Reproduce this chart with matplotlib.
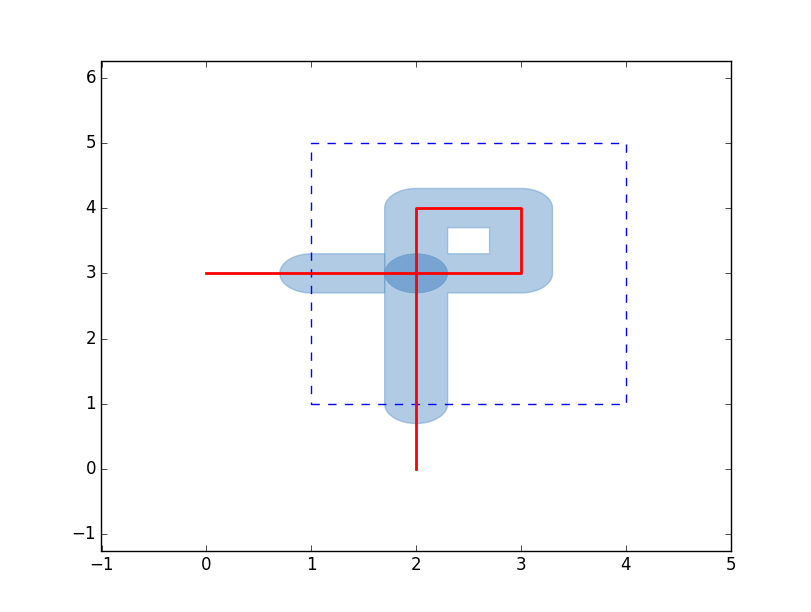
import matplotlib
matplotlib.use('Agg')
import matplotlib.pyplot as plt
from matplotlib.path import Path
from matplotlib.patches import PathPatch
import numpy as np

# line and clipping box
line_x = [0, 3, 3, 2, 2]
line_y = [3, 3, 4, 4, 0]
box = (1, 1, 4, 5)   # minx, miny, maxx, maxy
r = 0.3              # buffer distance

BLUE = '#6699cc'


def arc(cx, cy, a0, a1, n=40):
    t = np.radians(np.linspace(a0, a1, n))
    return list(zip(cx + r * np.cos(t), cy + r * np.sin(t)))


def subpath(pts):
    verts = pts + [pts[0]]
    codes = [Path.MOVETO] + [Path.LINETO] * (len(pts) - 1) + [Path.CLOSEPOLY]
    return verts, codes


plt.style.use('classic')
fig = plt.figure(figsize=(8.12, 6.12), dpi=100, facecolor='white')
ax = fig.add_subplot(111)

# corner points of the line
xr, yb = line_x[1], line_y[1]
yt = line_y[2]
xl = line_x[3]
ybot = box[1]

# ring + vertical stem
outer = (arc(xl, ybot, 180, 360)
         + [(xl + r, yb - r)]
         + arc(xr, yb, 270, 360)
         + arc(xr, yt, 0, 90)
         + arc(xl, yt, 90, 180))
hole = [(xl + r, yb + r), (xl + r, yt - r), (xr - r, yt - r), (xr - r, yb + r)]
v1, c1 = subpath(outer)
v2, c2 = subpath(hole)
ax.add_patch(PathPatch(Path(v1 + v2, c1 + c2), fc=BLUE, ec=BLUE, alpha=0.5, zorder=1))

# left arm
left = [(box[0], yb - r), (xl - r, yb - r), (xl - r, yb + r)] + arc(box[0], yb, 90, 270)
v3, c3 = subpath(left)
ax.add_patch(PathPatch(Path(v3, c3), fc=BLUE, ec=BLUE, alpha=0.5, zorder=1))

# knot where the pieces meet (covered twice more)
v4, c4 = subpath(arc(xl, yb, 0, 360))
for _ in range(2):
    ax.add_patch(PathPatch(Path(v4, c4), fc=BLUE, ec=BLUE, alpha=0.5, lw=0.5, zorder=1))

# clipping box
bx = [box[0], box[2], box[2], box[0], box[0]]
by = [box[1], box[1], box[3], box[3], box[1]]
ax.plot(bx, by, '--', color='blue', linewidth=1, zorder=2)

ax.plot(line_x, line_y, color='red', linewidth=2, zorder=3)

ax.set_xlim(-1, 5)
ax.set_ylim(-1.25, 6.25)
ax.set_xticks(range(-1, 6))
ax.set_yticks(range(-1, 7))

fig.savefig('out.png', facecolor='white')
